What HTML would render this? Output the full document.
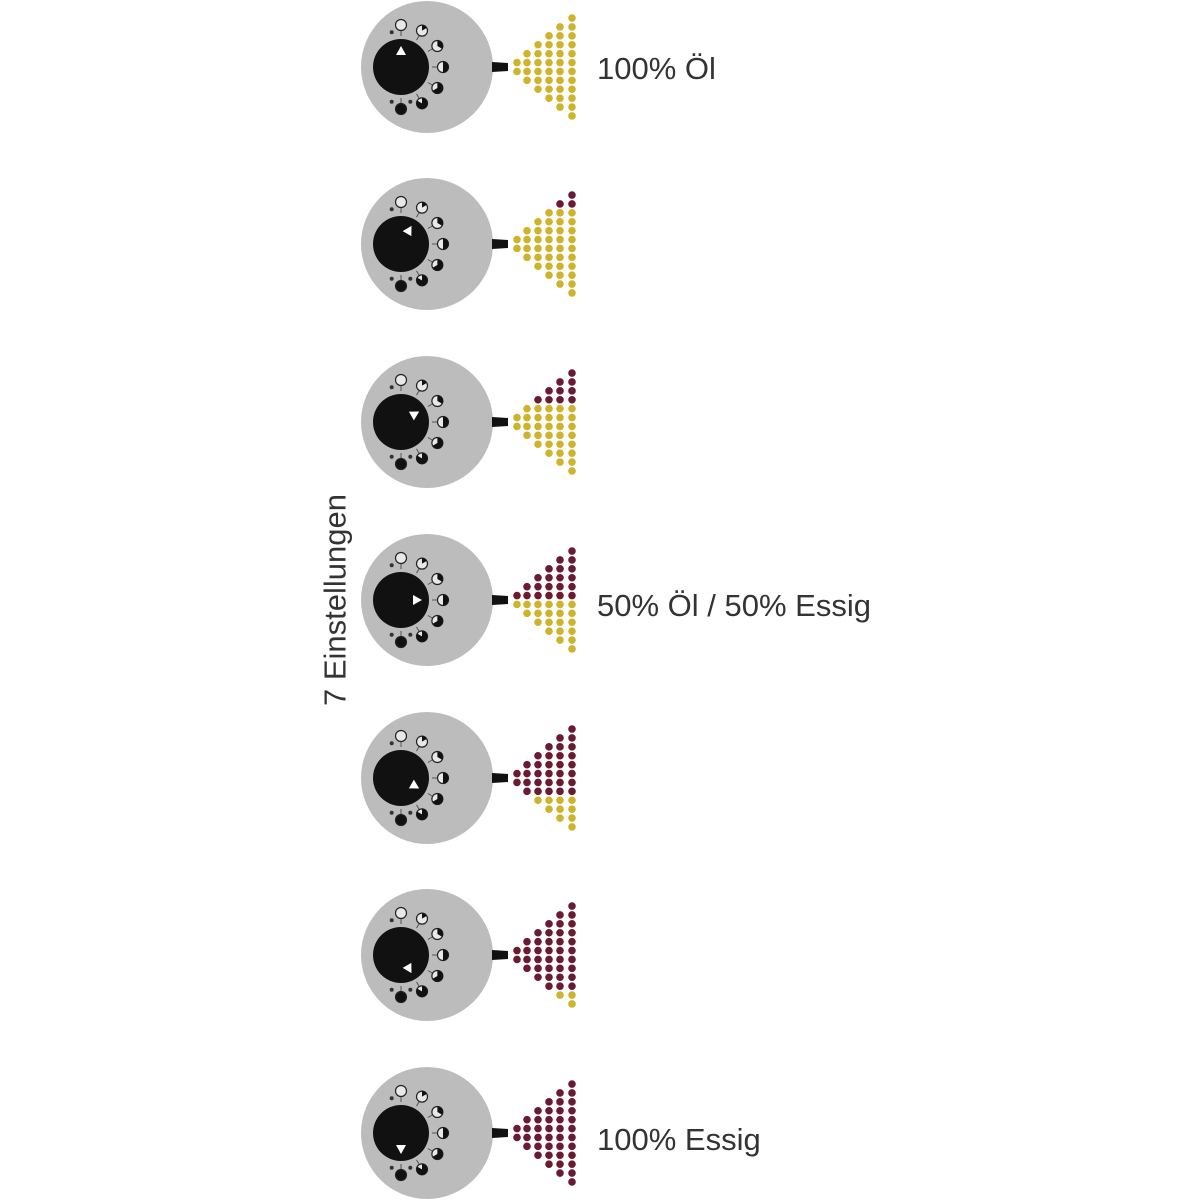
<!DOCTYPE html>
<html><head><meta charset="utf-8"><style>
html,body{margin:0;padding:0;background:#fff;width:1200px;height:1200px;overflow:hidden}
svg{position:absolute;left:0;top:0}
.t{position:absolute;font-family:"Liberation Sans",sans-serif;font-size:31px;color:#333;white-space:nowrap;line-height:1}
</style></head><body>
<svg id="s" width="1200" height="1200" xmlns="http://www.w3.org/2000/svg"></svg>
<div class="t" style="left:597px;top:53px">100% Öl</div>
<div class="t" style="left:597px;top:590px">50% Öl / 50% Essig</div>
<div class="t" style="left:597px;top:1124px">100% Essig</div>
<div class="t" style="left:335px;top:600px;transform:translate(-50%,-50%) rotate(-90deg)">7 Einstellungen</div>
<script>
var s=document.getElementById('s'),h='';
var ys=[67,244,422,600,778,955,1133];
var cx=[517,527,538,549,560,572];
for(var k=0;k<7;k++){
  var cy=ys[k],kx=401;
  h+='<circle cx="427" cy="'+cy+'" r="66" fill="#bcbcbc"/>';
  h+='<path d="M492 '+(cy-5)+' L508 '+(cy-4)+' L508 '+(cy+4)+' L492 '+(cy+5)+'Z" fill="#111"/>';
  for(var i=0;i<7;i++){
    var a=(-90+30*i)*Math.PI/180,x=kx+42*Math.cos(a),y=cy+42*Math.sin(a);
    var x2=kx+31*Math.cos(a),y2=cy+31*Math.sin(a);
    h+='<line x1="'+x2+'" y1="'+y2+'" x2="'+(kx+36*Math.cos(a))+'" y2="'+(cy+36*Math.sin(a))+'" stroke="#555" stroke-width="1"/>';
    h+='<circle cx="'+x+'" cy="'+y+'" r="5.5" fill="'+(i==6?'#111':'#e8e8e8')+'" stroke="#222" stroke-width="1.2"/>';
    if(i>0&&i<6){var f=i/6*2*Math.PI,ex=x+5.5*Math.sin(f),ey=y-5.5*Math.cos(f);
      h+='<path d="M'+x+' '+y+' L'+x+' '+(y-5.5)+' A5.5 5.5 0 '+(f>Math.PI?1:0)+' 1 '+ex+' '+ey+' Z" fill="#111"/>';}
  }
  [-105,75,105].forEach(function(d){var a=d*Math.PI/180;h+='<circle cx="'+(kx+36*Math.cos(a))+'" cy="'+(cy+36*Math.sin(a))+'" r="2" fill="#333"/>';});
  h+='<circle cx="'+kx+'" cy="'+cy+'" r="28" fill="#111"/>';
  var a=(-90+30*k)*Math.PI/180,px=kx+21*Math.cos(a),py=cy+21*Math.sin(a),bx=kx+12*Math.cos(a),by=cy+12*Math.sin(a),nx=-Math.sin(a)*5,ny=Math.cos(a)*5;
  h+='<path d="M'+px+' '+py+' L'+(bx+nx)+' '+(by+ny)+' L'+(bx-nx)+' '+(by-ny)+'Z" fill="#fff"/>';
  for(var c=0;c<6;c++){for(var r=5-c;r<=6+c;r++){
    var y=cy+(r-5.5)*8.9;
    h+='<circle cx="'+cx[c]+'" cy="'+y+'" r="3.8" fill="'+(r<2*k?'#6b1a33':'#cdb42c')+'"/>';
  }}
}
s.innerHTML=h;
</script>
</body></html>
